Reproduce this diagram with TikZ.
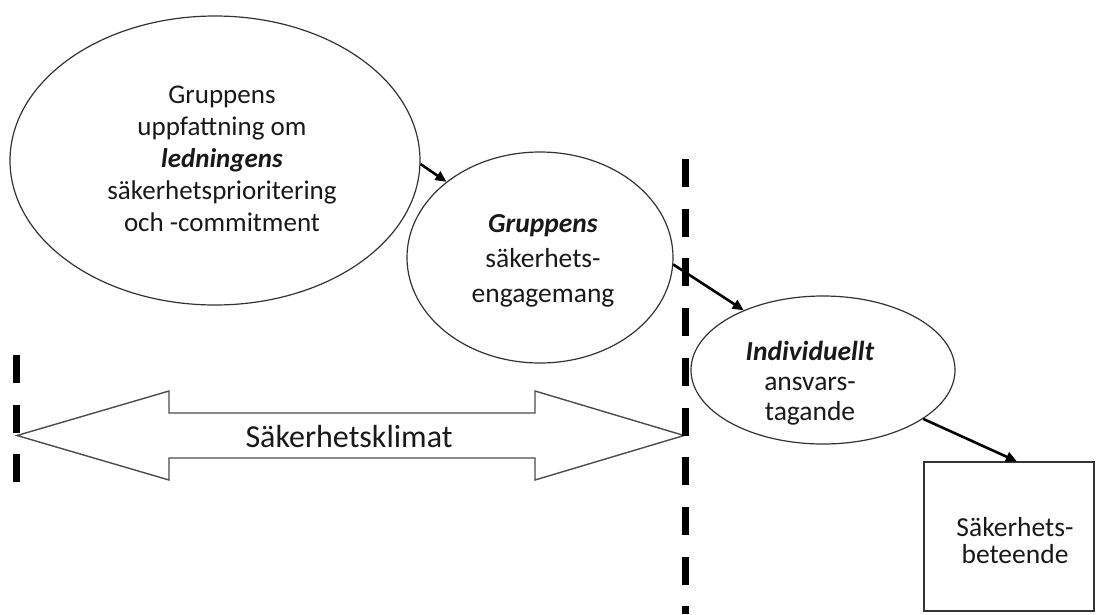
\documentclass[tikz,border=0pt]{standalone}
\usepackage{fontspec}
\setmainfont{Carlito}
\usetikzlibrary{shapes.geometric,arrows.meta}
\begin{document}
\begin{tikzpicture}[x=1pt,y=-1pt,
  shapeline/.style={draw=black!80, line width=1.2pt},
  oval/.style={shapeline, ellipse, inner sep=0pt},
  box/.style={shapeline, rectangle, inner sep=0pt},
  txt/.style={align=center, text=black!90, inner sep=0pt},
  conn/.style={line width=2.6pt, -{Triangle[length=11pt,width=10pt]}},
  divider/.style={line width=7pt, dash pattern=on 28pt off 21.7pt},
  bigarrow/.style={draw=black!70, line width=1.4pt, line join=miter},
]
\useasboundingbox (0,0) rectangle (1097,614);

% shapes
\node[oval, minimum width=410pt, minimum height=289pt] (e1) at (215,160.5) {};
\node[oval, minimum width=266pt, minimum height=211pt] (e2) at (540,257.5) {};
\node[oval, minimum width=264pt, minimum height=148pt] (e3) at (823,370) {};
\node[box, minimum width=170pt, minimum height=149pt] (r) at (1009,536.5) {};

% texts
\node[txt, font=\fontsize{27}{32}\selectfont] (t1) at (222,159)
  {Gruppens\\uppfattning om\\\textbf{\textit{ledningens}}\\säkerhetsprioritering\\och -commitment};
\node[txt, font=\fontsize{27.5}{35}\selectfont] (t2) at (543,261)
  {\textbf{\textit{Gruppens}}\\säkerhets-\\engagemang};
\node[txt, font=\fontsize{27.5}{30}\selectfont] (t3) at (810,383)
  {\textbf{\textit{Individuellt}}\\ansvars-\\tagande};
\node[txt, font=\fontsize{27.5}{27}\selectfont] (t4) at (1015,541)
  {Säkerhets-\\beteende};

% double arrow
\draw[bigarrow] (17,435.5) -- (169,391) -- (169,413) -- (535,413) -- (535,391)
  -- (684,435.5) -- (535,480) -- (535,458) -- (169,458) -- (169,480) -- cycle;
\node[txt, font=\fontsize{32}{38}\selectfont] (klimat) at (349,436) {Säkerhetsklimat};

% connectors
\draw[conn] (e1.-1) -- (e2.141);
\draw[conn] (e2.-3) -- (e3.143);
\draw[conn] (e3.-26) -- (r.84);

% dashed dividers
\coordinate (d1a) at (16,355);
\coordinate (d1b) at (16,482);
\coordinate (d2a) at (685,159);
\coordinate (d2b) at (685,614);
\draw[divider] (d1a) -- (d1b);
\draw[divider] (d2a) -- (d2b);
\end{tikzpicture}
\end{document}
